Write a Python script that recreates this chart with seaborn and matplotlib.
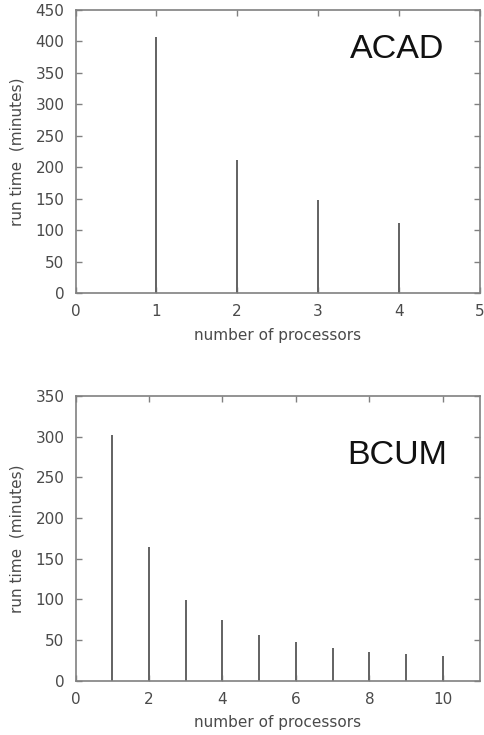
import numpy as np
import pandas as pd
import matplotlib
matplotlib.use("Agg")
import matplotlib.pyplot as plt
import seaborn as sns

acad_procs = [1, 2, 3, 4]
acad_times = [406, 212, 148, 112]
bcum_procs = [1, 2, 3, 4, 5, 6, 7, 8, 9, 10]
bcum_times = [302, 164, 99, 75, 57, 48, 41, 36, 33, 31]

sns.set_style("ticks")
plt.rcParams['font.family'] = ['DejaVu Sans']

fig = plt.figure(figsize=(4.84, 7.35), dpi=100)
ax1 = fig.add_axes([0.156, 0.601, 0.835, 0.386])
ax2 = fig.add_axes([0.156, 0.0735, 0.835, 0.388])

frame = "#808080"
tickc = "#4a4a4a"
barc = "#666666"

def style(ax, xlim, ylim, xticks, yticks, label, lx, ly, fs):
    ax.set_xlim(*xlim)
    ax.set_ylim(*ylim)
    ax.set_xticks(xticks)
    ax.set_yticks(yticks)
    ax.set_xticklabels([str(t) for t in xticks])
    ax.set_yticklabels([str(t) for t in yticks])
    for s in ax.spines.values():
        s.set_visible(True)
        s.set_color(frame)
        s.set_linewidth(1.2)
    ax.tick_params(direction="in", length=4, width=1, color=frame,
                   labelsize=11, labelcolor=tickc, top=True, right=True)
    ax.tick_params(axis="x", pad=8)
    ax.tick_params(axis="y", pad=8)
    ax.set_xlabel("number of processors", fontsize=11, color=tickc, labelpad=6)
    ax.set_ylabel("run time  (minutes)", fontsize=11, color=tickc, labelpad=8)
    ax.text(lx, ly, label, transform=ax.transAxes, fontsize=fs, color="#111111",
            ha="center", va="center", family=["Liberation Sans"])

df1 = pd.DataFrame({"procs": acad_procs, "time": acad_times})
df2 = pd.DataFrame({"procs": bcum_procs, "time": bcum_times})

sns.barplot(data=df1, x="procs", y="time", native_scale=True, width=0.025,
            color=barc, saturation=1, linewidth=0, ax=ax1)
sns.barplot(data=df2, x="procs", y="time", native_scale=True, width=0.055,
            color=barc, saturation=1, linewidth=0, ax=ax2)

style(ax1, (0, 5), (0, 450), [0, 1, 2, 3, 4, 5], list(range(0, 451, 50)),
      "ACAD", 0.795, 0.86, 24.5)
style(ax2, (0, 11), (0, 350), [0, 2, 4, 6, 8, 10], list(range(0, 351, 50)),
      "BCUM", 0.795, 0.792, 24.5)

fig.savefig("out.png", dpi=100)
